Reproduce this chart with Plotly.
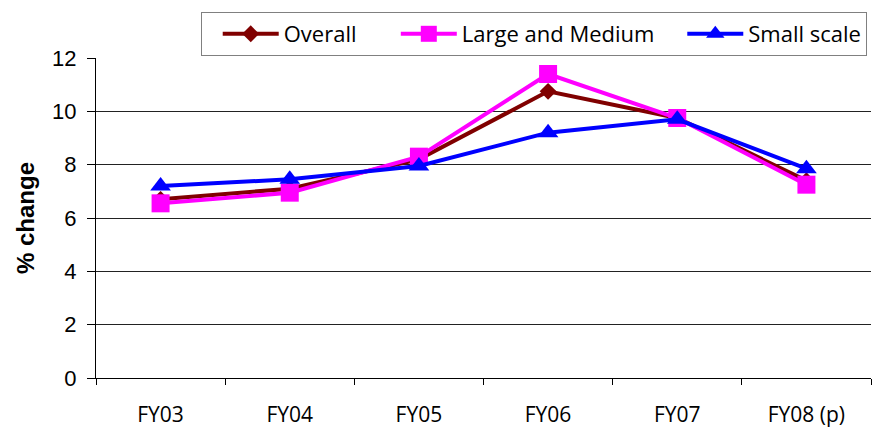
import plotly.graph_objects as go

categories = ["FY03", "FY04", "FY05", "FY06", "FY07", "FY08 (p)"]
overall = [6.7, 7.1, 8.2, 10.75, 9.75, 7.4]
large_medium = [6.55, 6.95, 8.3, 11.4, 9.75, 7.25]
small_scale = [7.2, 7.45, 7.95, 9.2, 9.7, 7.85]
y_ticks = [0, 2, 4, 6, 8, 10, 12]
series_names = ["Overall", "Large and Medium", "Small scale"]

TEXT_FONT = "Open Sans, Noto Sans, sans-serif"
NUM_FONT = "Liberation Sans, Arial, sans-serif"
NBSP = "\u00a0"

fig = go.Figure()
fig.add_trace(go.Scatter(x=categories, y=overall, name=series_names[0] + NBSP * 6, mode="lines+markers",
                         line=dict(color="#800000", width=4),
                         marker=dict(symbol="diamond", size=13, color="#800000")))
fig.add_trace(go.Scatter(x=categories, y=large_medium, name=series_names[1] + NBSP * 4, mode="lines+markers",
                         line=dict(color="#FF00FF", width=4),
                         marker=dict(symbol="square", size=18, color="#FF00FF")))
fig.add_trace(go.Scatter(x=categories, y=small_scale, name=series_names[2], mode="lines+markers",
                         line=dict(color="#0000FF", width=4),
                         marker=dict(symbol="triangle-up", size=18, color="#0000FF")))

fig.update_layout(
    width=874, height=429,
    margin=dict(l=96, r=3, t=58, b=51),
    paper_bgcolor="white", plot_bgcolor="white",
    font=dict(family=TEXT_FONT, size=21, color="black"),
    showlegend=True,
    legend=dict(orientation="h", xref="container", yref="container",
                x=201 / 874, xanchor="left", y=1 - 12 / 429, yanchor="top",
                bordercolor="#808080", borderwidth=1, bgcolor="white",
                font=dict(family=TEXT_FONT, size=22), itemwidth=56,
                title=dict(text=NBSP, side="left", font=dict(size=22))),
    xaxis=dict(type="category", showgrid=False, showline=True, linecolor="black", linewidth=1,
               ticks="outside", tickson="boundaries", ticklen=6, tickcolor="black",
               ticklabelstandoff=18, tickfont=dict(family=TEXT_FONT, size=21),
               range=[-0.5, 5.5], automargin=False),
    yaxis=dict(range=[0, 12], tickvals=y_ticks, showgrid=True, gridcolor="#222222", gridwidth=1,
               showline=True, linecolor="black", linewidth=1, ticks="outside", ticklen=8,
               tickcolor="black", ticklabelstandoff=6, tickfont=dict(family=NUM_FONT, size=22),
               zeroline=False, automargin=False,
               title=dict(text="<b>% change</b>", font=dict(size=24, family=NUM_FONT),
                          standoff=10)),
)

fig.write_html("out.html", config={"displayModeBar": False},
               post_script="document.body.style.margin='0px';")
